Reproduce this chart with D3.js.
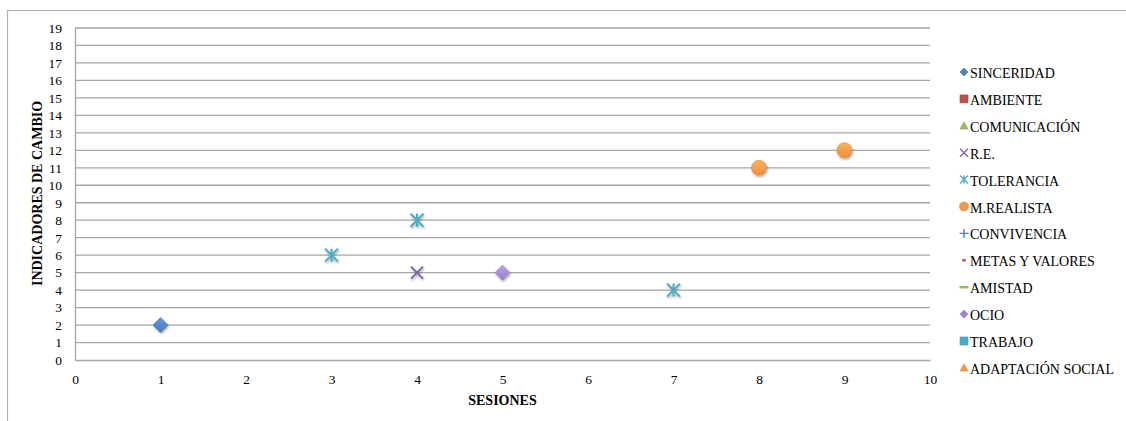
<!DOCTYPE html>
<html>
<head>
<meta charset="utf-8">
<script src="https://cdn.jsdelivr.net/npm/d3@7"></script>
<style>
  html, body { margin: 0; padding: 0; background: #fff; }
  svg { display: block; }
  text { font-family: "Liberation Serif", "Times New Roman", serif; fill: #000; }
</style>
</head>
<body>
<svg id="chart" width="1126" height="421"></svg>
<script>
// Series names in legend order
const seriesNames = ["SINCERIDAD", "AMBIENTE", "COMUNICACIÓN", "R.E.", "TOLERANCIA", "M.REALISTA",
  "CONVIVENCIA", "METAS Y VALORES", "AMISTAD", "OCIO", "TRABAJO", "ADAPTACIÓN SOCIAL"];

// [sesión, indicador] points per series
const sinceridad = [[1, 2]];
const ambiente = [];
const comunicacion = [];
const re = [[4, 5]];
const tolerancia = [[3, 6], [4, 8], [7, 4]];
const mRealista = [[8, 11], [9, 12]];
const convivencia = [];
const metasValores = [];
const amistad = [];
const ocio = [[5, 5]];
const trabajo = [];
const adaptacionSocial = [];

const seriesPoints = [sinceridad, ambiente, comunicacion, re, tolerancia, mRealista,
  convivencia, metasValores, amistad, ocio, trabajo, adaptacionSocial];

const seriesColors = ["#4f81bd", "#c0504d", "#9bbb59", "#8064a2", "#4bacc6", "#f79646",
  "#4f81bd", "#c0504d", "#9bbb59", "#9d87cc", "#4bacc6", "#f79646"];
const seriesShapes = ["diamond", "square", "triangle", "x", "star", "circle",
  "plus", "dash", "longdash", "diamond", "square", "triangle"];

const xTicks = [0, 1, 2, 3, 4, 5, 6, 7, 8, 9, 10];
const yTicks = d3.range(0, 20);

const svg = d3.select("#chart");

// outer chart frame
svg.append("rect")
  .attr("x", 7.5).attr("y", 10.5).attr("width", 1140).attr("height", 420)
  .attr("fill", "#fff").attr("stroke", "#b3b3b3").attr("stroke-width", 1.2);

const plot = { left: 75, right: 930, top: 28, bottom: 360 };
const x = d3.scaleLinear().domain([0, 10]).range([plot.left, plot.right]);
const y = d3.scaleLinear().domain([0, 19]).range([plot.bottom, plot.top]);

const defs = svg.append("defs");
const shadow = defs.append("filter").attr("id", "shadow")
  .attr("x", "-50%").attr("y", "-50%").attr("width", "200%").attr("height", "200%");
shadow.append("feDropShadow").attr("dx", 0.8).attr("dy", 1.5).attr("stdDeviation", 1)
  .attr("flood-color", "#000").attr("flood-opacity", 0.35);

seriesColors.forEach((c, i) => {
  const g = defs.append("linearGradient").attr("id", "grad" + i)
    .attr("x1", 0).attr("y1", 0).attr("x2", 0).attr("y2", 1);
  g.append("stop").attr("offset", "0%").attr("stop-color", d3.color(c).brighter(0.5));
  g.append("stop").attr("offset", "100%").attr("stop-color", d3.color(c).darker(0.15));
});

// horizontal gridlines
svg.append("g")
  .selectAll("line").data(yTicks.filter(d => d > 0)).join("line")
  .attr("x1", plot.left).attr("x2", plot.right)
  .attr("y1", d => y(d)).attr("y2", d => y(d))
  .attr("stroke", "#a6a6a6").attr("stroke-width", 1.3);

// axes
const yAxis = d3.axisLeft(y).tickValues(yTicks).tickSize(0).tickPadding(13);
const gy = svg.append("g").attr("transform", `translate(${plot.left},0)`).call(yAxis);
gy.select(".domain").attr("stroke", "#a6a6a6").attr("stroke-width", 1.3);
gy.selectAll("text").attr("font-size", 13.5).attr("font-family", "Liberation Serif");

const xAxis = d3.axisBottom(x).tickValues(xTicks).tickSize(0).tickPadding(14);
const gx = svg.append("g").attr("transform", `translate(0,${plot.bottom})`).call(xAxis);
gx.select(".domain").attr("stroke", "#a6a6a6").attr("stroke-width", 1.3);
gx.selectAll("text").attr("font-size", 13.5).attr("font-family", "Liberation Serif");

// axis titles
svg.append("text")
  .attr("x", (plot.left + plot.right) / 2).attr("y", 405).attr("text-anchor", "middle")
  .attr("font-size", 14).attr("font-weight", "bold").text("SESIONES");
svg.append("text")
  .attr("transform", "translate(42,193.5) rotate(-90)").attr("text-anchor", "middle")
  .attr("font-size", 14).attr("font-weight", "bold").text("INDICADORES DE CAMBIO");

// marker path builder, s = overall size in px
function markerPath(shape, s) {
  const h = s / 2;
  switch (shape) {
    case "diamond": return `M0,${-h}L${h},0L0,${h}L${-h},0Z`;
    case "square": return `M${-h},${-h}H${h}V${h}H${-h}Z`;
    case "triangle": return `M0,${-h}L${h},${h * 0.8}L${-h},${h * 0.8}Z`;
    case "circle": return d3.symbol(d3.symbolCircle, Math.PI * h * h)();
    case "x": return `M${-h},${-h}L${h},${h}M${-h},${h}L${h},${-h}`;
    case "plus": return `M${-h},0H${h}M0,${-h}V${h}`;
    case "star": return `M${-h},${-h}L${h},${h}M${-h},${h}L${h},${-h}M0,${-h}V${h}`;
    case "dash": return `M${-h * 0.5},0H${h * 0.5}`;
    case "longdash": return `M${-h},0H${h}`;
  }
}
const lineShapes = new Set(["x", "plus", "star", "dash", "longdash"]);

function drawMarker(sel, i, size, withShadow) {
  const shape = seriesShapes[i];
  const p = sel.append("path").attr("d", markerPath(shape, size));
  if (lineShapes.has(shape)) {
    p.attr("fill", "none").attr("stroke", seriesColors[i])
      .attr("stroke-width", shape === "dash" || shape === "longdash" ? 2.5 : (withShadow ? 2 : 1.4));
  } else {
    p.attr("fill", withShadow ? `url(#grad${i})` : seriesColors[i])
      .attr("stroke", d3.color(seriesColors[i]).darker(0.3)).attr("stroke-width", 0.6);
  }
  if (withShadow) p.attr("filter", "url(#shadow)");
}

// data points
const plotSizes = { diamond: 15, circle: 15, x: 12, star: 13, square: 13, triangle: 14, plus: 12, dash: 10, longdash: 14 };
seriesPoints.forEach((pts, i) => {
  pts.forEach(([sx, sy]) => {
    const g = svg.append("g").attr("transform", `translate(${x(sx)},${y(sy)})`);
    drawMarker(g, i, plotSizes[seriesShapes[i]], true);
  });
});

// legend
const legendSizes = { diamond: 8, circle: 9, x: 8, star: 8, square: 8, triangle: 8, plus: 9, dash: 7, longdash: 9 };
const legend = svg.append("g");
seriesNames.forEach((name, i) => {
  const ly = 73 + i * 26.9;
  const g = legend.append("g").attr("transform", `translate(964,${ly - 1})`);
  drawMarker(g, i, legendSizes[seriesShapes[i]], false);
  legend.append("text").attr("x", 970).attr("y", ly + 5)
    .attr("font-size", 14).text(name);
});
</script>
</body>
</html>
